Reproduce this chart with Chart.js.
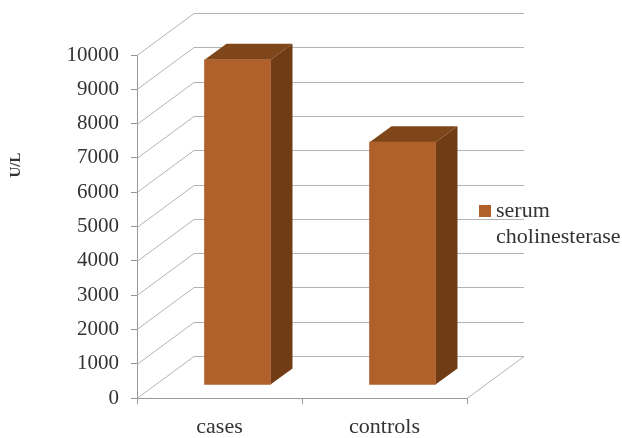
<!DOCTYPE html>
<html>
<head>
<meta charset="utf-8">
<title>serum cholinesterase</title>
<script src="https://cdn.jsdelivr.net/npm/chart.js@4"></script>
<style>
  body { margin: 0; background: #fff; }
  canvas { display: block; }
</style>
</head>
<body>
<canvas id="myChart" width="622" height="438"></canvas>
<script>
const categories = ["cases", "controls"];
const seriesName = ["serum", "cholinesterase"];
const cholinesterase = [9480, 7080];
const tickValues = [0, 1000, 2000, 3000, 4000, 5000, 6000, 7000, 8000, 9000, 10000];

const fontName = "'Liberation Serif', serif";
const textColor = "#333333";
const gridColor = "#b4b4b4";

// 3D look: back wall offset, and bar depth
const wall = { dx: 57, dy: -42 };
const barShift = { dx: 18, dy: -13 };
const barDepth = { dx: 22, dy: -16 };

function line(ctx, x1, y1, x2, y2) {
  ctx.beginPath();
  ctx.moveTo(x1, y1);
  ctx.lineTo(x2, y2);
  ctx.stroke();
}

function face(ctx, pts, color) {
  ctx.fillStyle = color;
  ctx.beginPath();
  pts.forEach((p, i) => (i ? ctx.lineTo(p[0], p[1]) : ctx.moveTo(p[0], p[1])));
  ctx.closePath();
  ctx.fill();
}

const fake3d = {
  id: "fake3d",
  beforeDatasetsDraw(chart) {
    const { ctx, scales, chartArea } = chart;
    ctx.save();
    ctx.strokeStyle = gridColor;
    ctx.lineWidth = 1;
    tickValues.forEach((v) => {
      const y = Math.round(scales.y.getPixelForValue(v)) + 0.5;
      line(ctx, chartArea.left, y, chartArea.left + wall.dx, y + wall.dy);
      line(ctx, chartArea.left + wall.dx, y + wall.dy, chartArea.right + wall.dx, y + wall.dy);
    });
    // right edge of the floor
    const y0 = Math.round(scales.y.getPixelForValue(0)) + 0.5;
    line(ctx, chartArea.right, y0, chartArea.right + wall.dx, y0 + wall.dy);
    ctx.restore();

    // bars stand in the middle of the floor
    ctx.save();
    ctx.translate(barShift.dx, barShift.dy);
    chart.getDatasetMeta(0).data.forEach((bar) => {
      const l = bar.x - bar.width / 2;
      const r = bar.x + bar.width / 2;
      const t = bar.y;
      const b = bar.base;
      const dx = barDepth.dx;
      const dy = barDepth.dy;
      face(ctx, [[l, t], [r, t], [r + dx, t + dy], [l + dx, t + dy]], "#7f4719");
      face(ctx, [[r, t], [r + dx, t + dy], [r + dx, b + dy], [r, b]], "#713b16");
    });
  },
  afterDatasetsDraw(chart) {
    chart.ctx.restore();
  },
  afterDraw(chart) {
    const { ctx } = chart;
    ctx.save();
    // axis title
    ctx.save();
    ctx.translate(16, 165);
    ctx.rotate(-Math.PI / 2);
    ctx.font = "bold 15px " + fontName;
    ctx.fillStyle = textColor;
    ctx.textAlign = "center";
    ctx.textBaseline = "middle";
    ctx.fillText("U/L", 0, 0);
    ctx.restore();
    // legend
    ctx.fillStyle = chart.data.datasets[0].backgroundColor;
    ctx.fillRect(479, 205, 12, 12);
    ctx.font = "22px " + fontName;
    ctx.fillStyle = textColor;
    ctx.textAlign = "left";
    ctx.textBaseline = "alphabetic";
    ctx.fillText(seriesName[0], 496, 217);
    ctx.fillText(seriesName[1], 496, 243);
    ctx.restore();
  },
};

const ctx = document.getElementById("myChart").getContext("2d");
const myChart = new Chart(ctx, {
  type: "bar",
  data: {
    labels: categories,
    datasets: [
      {
        label: seriesName.join(" "),
        data: cholinesterase,
        backgroundColor: "#b0602b",
        borderWidth: 0,
        barThickness: 66,
      },
    ],
  },
  options: {
    responsive: false,
    animation: false,
    layout: { padding: { top: 55, right: 155, left: 0, bottom: 0 } },
    plugins: {
      legend: { display: false },
      tooltip: { enabled: false },
    },
    scales: {
      x: {
        afterFit(scale) { scale.height = 40; },
        grid: { drawOnChartArea: false, drawTicks: true, tickLength: 6, color: "#999999" },
        border: { color: "#999999" },
        ticks: { color: textColor, font: { family: fontName, size: 22 }, padding: 10, maxRotation: 0 },
      },
      y: {
        min: 0,
        max: 10000,
        afterFit(scale) { scale.width = 137; },
        afterBuildTicks(scale) { scale.ticks = tickValues.map((v) => ({ value: v })); },
        grid: { drawOnChartArea: false, drawTicks: true, tickLength: 6, color: "#999999" },
        border: { color: "#999999" },
        ticks: {
          color: textColor,
          font: { family: fontName, size: 21 },
          padding: 12,
          callback: (v) => String(v),
        },
      },
    },
  },
  plugins: [fake3d],
});
</script>
</body>
</html>
